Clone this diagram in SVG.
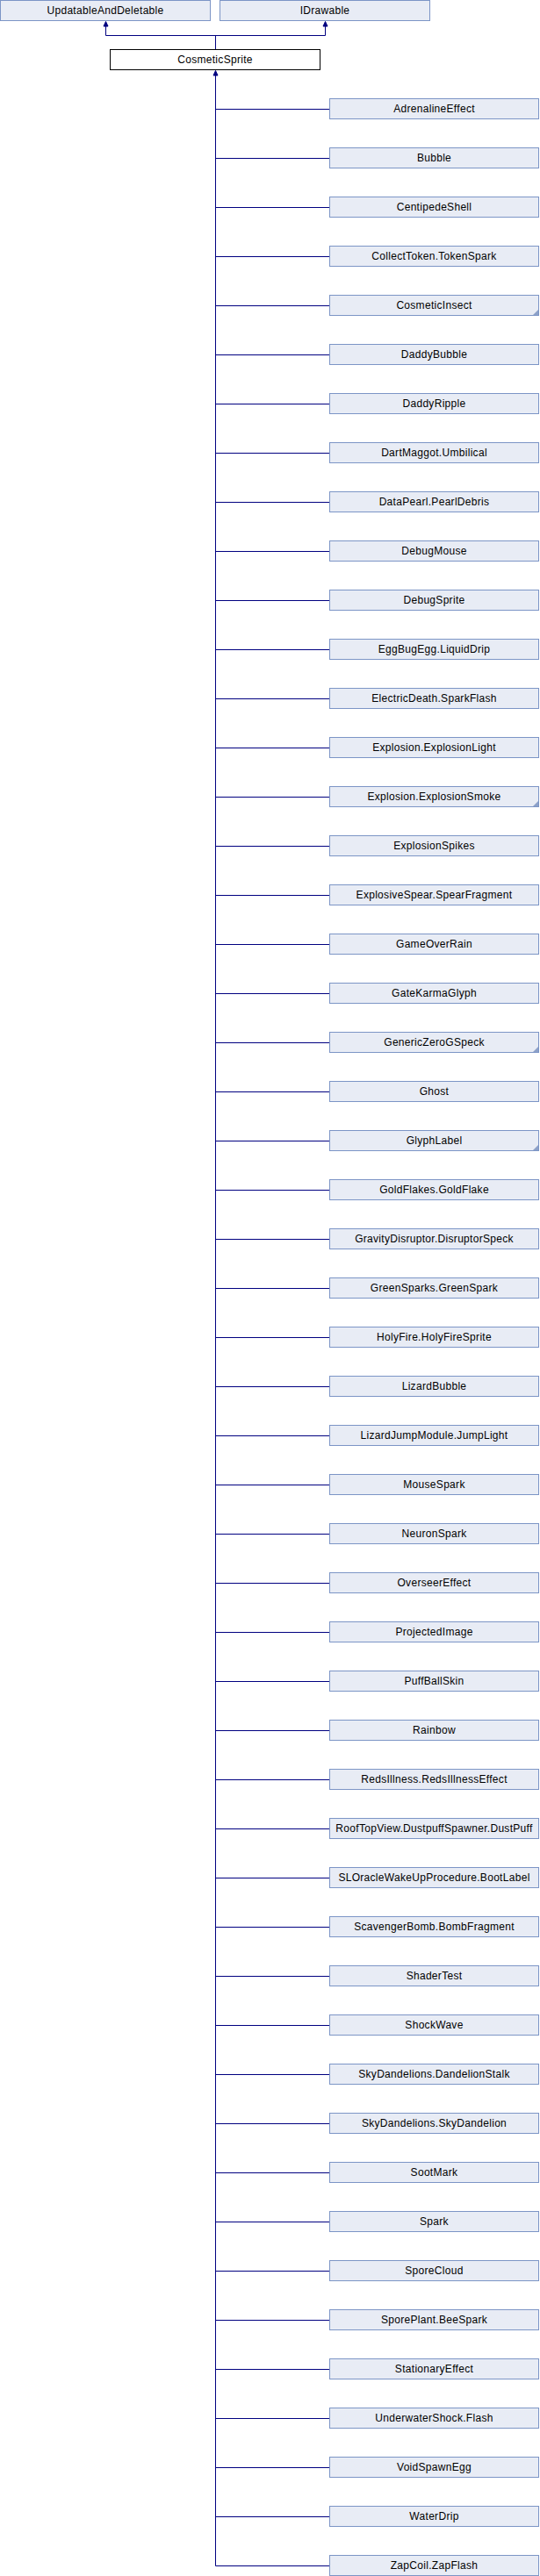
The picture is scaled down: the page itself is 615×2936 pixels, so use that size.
<svg xmlns="http://www.w3.org/2000/svg" width="615" height="2936" viewBox="0 0 615 2936">
<defs>
<style>
.n rect{fill:#E8ECF5;stroke:#7C95C6;stroke-width:1}
.m rect{fill:#FFFFFF;stroke:#000000;stroke-width:1}
text{font-family:"Liberation Sans",Arial,sans-serif;font-size:12px;letter-spacing:0.3px;fill:#000;text-anchor:middle}
.e{fill:none;stroke:#000080;stroke-width:1}
.ah{fill:#000080;stroke:#000080;stroke-width:1}
.c{fill:#8CA0C8;stroke:none}
</style>
</defs>
<rect x="0" y="0" width="615" height="2936" fill="#FFFFFF"/>
<g id="connectors">
<path class="e" d="M120.5,30 V40.5 H370.5 V30 M245.5,40.5 V56.5 M245.5,86 V2924.5"/>
<path class="ah" d="M120.5,24.5 L118,30 L123,30 Z M370.5,24.5 L368,30 L373,30 Z M245.5,80.5 L243,86 L248,86 Z"/>
<path class="e" d="M245.5,124.5 H375.5 M245.5,180.5 H375.5 M245.5,236.5 H375.5 M245.5,292.5 H375.5 M245.5,348.5 H375.5 M245.5,404.5 H375.5 M245.5,460.5 H375.5 M245.5,516.5 H375.5 M245.5,572.5 H375.5 M245.5,628.5 H375.5 M245.5,684.5 H375.5 M245.5,740.5 H375.5 M245.5,796.5 H375.5 M245.5,852.5 H375.5 M245.5,908.5 H375.5 M245.5,964.5 H375.5 M245.5,1020.5 H375.5 M245.5,1076.5 H375.5 M245.5,1132.5 H375.5 M245.5,1188.5 H375.5 M245.5,1244.5 H375.5 M245.5,1300.5 H375.5 M245.5,1356.5 H375.5 M245.5,1412.5 H375.5 M245.5,1468.5 H375.5 M245.5,1524.5 H375.5 M245.5,1580.5 H375.5 M245.5,1636.5 H375.5 M245.5,1692.5 H375.5 M245.5,1748.5 H375.5 M245.5,1804.5 H375.5 M245.5,1860.5 H375.5 M245.5,1916.5 H375.5 M245.5,1972.5 H375.5 M245.5,2028.5 H375.5 M245.5,2084.5 H375.5 M245.5,2140.5 H375.5 M245.5,2196.5 H375.5 M245.5,2252.5 H375.5 M245.5,2308.5 H375.5 M245.5,2364.5 H375.5 M245.5,2420.5 H375.5 M245.5,2476.5 H375.5 M245.5,2532.5 H375.5 M245.5,2588.5 H375.5 M245.5,2644.5 H375.5 M245.5,2700.5 H375.5 M245.5,2756.5 H375.5 M245.5,2812.5 H375.5 M245.5,2868.5 H375.5 M245.5,2924.5 H375.5"/>
</g>
<g id="UpdatableAndDeletable" class="n"><rect x="0.5" y="0.5" width="239" height="23"/><text x="120" y="16">UpdatableAndDeletable</text></g>
<g id="IDrawable" class="n"><rect x="250.5" y="0.5" width="239" height="23"/><text x="370" y="16">IDrawable</text></g>
<g id="CosmeticSprite" class="m"><rect x="125.5" y="56.5" width="239" height="23"/><text x="245" y="72">CosmeticSprite</text></g>
<g id="AdrenalineEffect" class="n"><rect x="375.5" y="112.5" width="238" height="23"/><text x="494.5" y="128">AdrenalineEffect</text></g>
<g id="Bubble" class="n"><rect x="375.5" y="168.5" width="238" height="23"/><text x="494.5" y="184">Bubble</text></g>
<g id="CentipedeShell" class="n"><rect x="375.5" y="224.5" width="238" height="23"/><text x="494.5" y="240">CentipedeShell</text></g>
<g id="CollectToken.TokenSpark" class="n"><rect x="375.5" y="280.5" width="238" height="23"/><text x="494.5" y="296">CollectToken.TokenSpark</text></g>
<g id="CosmeticInsect" class="n"><rect x="375.5" y="336.5" width="238" height="23"/><text x="494.5" y="352">CosmeticInsect</text><path class="c" d="M613,353 V359 H607 Z"/></g>
<g id="DaddyBubble" class="n"><rect x="375.5" y="392.5" width="238" height="23"/><text x="494.5" y="408">DaddyBubble</text></g>
<g id="DaddyRipple" class="n"><rect x="375.5" y="448.5" width="238" height="23"/><text x="494.5" y="464">DaddyRipple</text></g>
<g id="DartMaggot.Umbilical" class="n"><rect x="375.5" y="504.5" width="238" height="23"/><text x="494.5" y="520">DartMaggot.Umbilical</text></g>
<g id="DataPearl.PearlDebris" class="n"><rect x="375.5" y="560.5" width="238" height="23"/><text x="494.5" y="576">DataPearl.PearlDebris</text></g>
<g id="DebugMouse" class="n"><rect x="375.5" y="616.5" width="238" height="23"/><text x="494.5" y="632">DebugMouse</text></g>
<g id="DebugSprite" class="n"><rect x="375.5" y="672.5" width="238" height="23"/><text x="494.5" y="688">DebugSprite</text></g>
<g id="EggBugEgg.LiquidDrip" class="n"><rect x="375.5" y="728.5" width="238" height="23"/><text x="494.5" y="744">EggBugEgg.LiquidDrip</text></g>
<g id="ElectricDeath.SparkFlash" class="n"><rect x="375.5" y="784.5" width="238" height="23"/><text x="494.5" y="800">ElectricDeath.SparkFlash</text></g>
<g id="Explosion.ExplosionLight" class="n"><rect x="375.5" y="840.5" width="238" height="23"/><text x="494.5" y="856">Explosion.ExplosionLight</text></g>
<g id="Explosion.ExplosionSmoke" class="n"><rect x="375.5" y="896.5" width="238" height="23"/><text x="494.5" y="912">Explosion.ExplosionSmoke</text><path class="c" d="M613,913 V919 H607 Z"/></g>
<g id="ExplosionSpikes" class="n"><rect x="375.5" y="952.5" width="238" height="23"/><text x="494.5" y="968">ExplosionSpikes</text></g>
<g id="ExplosiveSpear.SpearFragment" class="n"><rect x="375.5" y="1008.5" width="238" height="23"/><text x="494.5" y="1024">ExplosiveSpear.SpearFragment</text></g>
<g id="GameOverRain" class="n"><rect x="375.5" y="1064.5" width="238" height="23"/><text x="494.5" y="1080">GameOverRain</text></g>
<g id="GateKarmaGlyph" class="n"><rect x="375.5" y="1120.5" width="238" height="23"/><text x="494.5" y="1136">GateKarmaGlyph</text></g>
<g id="GenericZeroGSpeck" class="n"><rect x="375.5" y="1176.5" width="238" height="23"/><text x="494.5" y="1192">GenericZeroGSpeck</text><path class="c" d="M613,1193 V1199 H607 Z"/></g>
<g id="Ghost" class="n"><rect x="375.5" y="1232.5" width="238" height="23"/><text x="494.5" y="1248">Ghost</text></g>
<g id="GlyphLabel" class="n"><rect x="375.5" y="1288.5" width="238" height="23"/><text x="494.5" y="1304">GlyphLabel</text><path class="c" d="M613,1305 V1311 H607 Z"/></g>
<g id="GoldFlakes.GoldFlake" class="n"><rect x="375.5" y="1344.5" width="238" height="23"/><text x="494.5" y="1360">GoldFlakes.GoldFlake</text></g>
<g id="GravityDisruptor.DisruptorSpeck" class="n"><rect x="375.5" y="1400.5" width="238" height="23"/><text x="494.5" y="1416">GravityDisruptor.DisruptorSpeck</text></g>
<g id="GreenSparks.GreenSpark" class="n"><rect x="375.5" y="1456.5" width="238" height="23"/><text x="494.5" y="1472">GreenSparks.GreenSpark</text></g>
<g id="HolyFire.HolyFireSprite" class="n"><rect x="375.5" y="1512.5" width="238" height="23"/><text x="494.5" y="1528">HolyFire.HolyFireSprite</text></g>
<g id="LizardBubble" class="n"><rect x="375.5" y="1568.5" width="238" height="23"/><text x="494.5" y="1584">LizardBubble</text></g>
<g id="LizardJumpModule.JumpLight" class="n"><rect x="375.5" y="1624.5" width="238" height="23"/><text x="494.5" y="1640">LizardJumpModule.JumpLight</text></g>
<g id="MouseSpark" class="n"><rect x="375.5" y="1680.5" width="238" height="23"/><text x="494.5" y="1696">MouseSpark</text></g>
<g id="NeuronSpark" class="n"><rect x="375.5" y="1736.5" width="238" height="23"/><text x="494.5" y="1752">NeuronSpark</text></g>
<g id="OverseerEffect" class="n"><rect x="375.5" y="1792.5" width="238" height="23"/><text x="494.5" y="1808">OverseerEffect</text></g>
<g id="ProjectedImage" class="n"><rect x="375.5" y="1848.5" width="238" height="23"/><text x="494.5" y="1864">ProjectedImage</text></g>
<g id="PuffBallSkin" class="n"><rect x="375.5" y="1904.5" width="238" height="23"/><text x="494.5" y="1920">PuffBallSkin</text></g>
<g id="Rainbow" class="n"><rect x="375.5" y="1960.5" width="238" height="23"/><text x="494.5" y="1976">Rainbow</text></g>
<g id="RedsIllness.RedsIllnessEffect" class="n"><rect x="375.5" y="2016.5" width="238" height="23"/><text x="494.5" y="2032">RedsIllness.RedsIllnessEffect</text></g>
<g id="RoofTopView.DustpuffSpawner.DustPuff" class="n"><rect x="375.5" y="2072.5" width="238" height="23"/><text x="494.5" y="2088">RoofTopView.DustpuffSpawner.DustPuff</text></g>
<g id="SLOracleWakeUpProcedure.BootLabel" class="n"><rect x="375.5" y="2128.5" width="238" height="23"/><text x="494.5" y="2144">SLOracleWakeUpProcedure.BootLabel</text></g>
<g id="ScavengerBomb.BombFragment" class="n"><rect x="375.5" y="2184.5" width="238" height="23"/><text x="494.5" y="2200">ScavengerBomb.BombFragment</text></g>
<g id="ShaderTest" class="n"><rect x="375.5" y="2240.5" width="238" height="23"/><text x="494.5" y="2256">ShaderTest</text></g>
<g id="ShockWave" class="n"><rect x="375.5" y="2296.5" width="238" height="23"/><text x="494.5" y="2312">ShockWave</text></g>
<g id="SkyDandelions.DandelionStalk" class="n"><rect x="375.5" y="2352.5" width="238" height="23"/><text x="494.5" y="2368">SkyDandelions.DandelionStalk</text></g>
<g id="SkyDandelions.SkyDandelion" class="n"><rect x="375.5" y="2408.5" width="238" height="23"/><text x="494.5" y="2424">SkyDandelions.SkyDandelion</text></g>
<g id="SootMark" class="n"><rect x="375.5" y="2464.5" width="238" height="23"/><text x="494.5" y="2480">SootMark</text></g>
<g id="Spark" class="n"><rect x="375.5" y="2520.5" width="238" height="23"/><text x="494.5" y="2536">Spark</text></g>
<g id="SporeCloud" class="n"><rect x="375.5" y="2576.5" width="238" height="23"/><text x="494.5" y="2592">SporeCloud</text></g>
<g id="SporePlant.BeeSpark" class="n"><rect x="375.5" y="2632.5" width="238" height="23"/><text x="494.5" y="2648">SporePlant.BeeSpark</text></g>
<g id="StationaryEffect" class="n"><rect x="375.5" y="2688.5" width="238" height="23"/><text x="494.5" y="2704">StationaryEffect</text></g>
<g id="UnderwaterShock.Flash" class="n"><rect x="375.5" y="2744.5" width="238" height="23"/><text x="494.5" y="2760">UnderwaterShock.Flash</text></g>
<g id="VoidSpawnEgg" class="n"><rect x="375.5" y="2800.5" width="238" height="23"/><text x="494.5" y="2816">VoidSpawnEgg</text></g>
<g id="WaterDrip" class="n"><rect x="375.5" y="2856.5" width="238" height="23"/><text x="494.5" y="2872">WaterDrip</text></g>
<g id="ZapCoil.ZapFlash" class="n"><rect x="375.5" y="2912.5" width="238" height="23"/><text x="494.5" y="2928">ZapCoil.ZapFlash</text></g>
</svg>
